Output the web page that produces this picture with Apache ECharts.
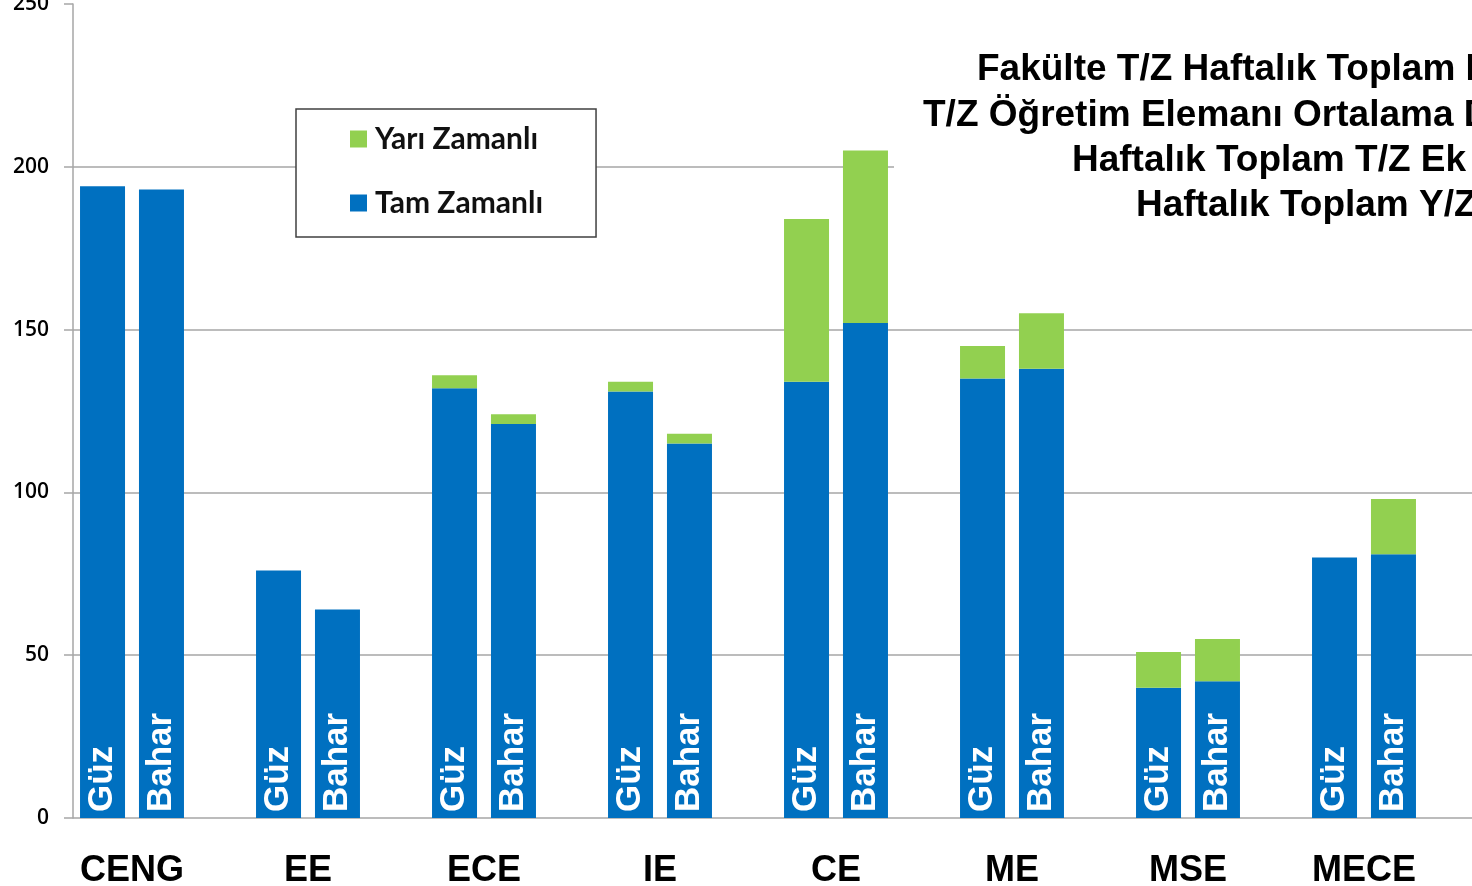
<!DOCTYPE html>
<html>
<head>
<meta charset="utf-8">
<title>T/Z - Y/Z Haftalık Ders Yükü</title>
<script src="https://cdn.jsdelivr.net/npm/echarts@6/dist/echarts.min.js"></script>
<style>
    html, body { margin: 0; padding: 0; background: #fff; }
    .bar { width: 1472px; height: 886px; }
</style>
</head>
<body>
<div class="bar"></div>
<script>
// bölümler
var categories = ['CENG', 'EE', 'ECE', 'IE', 'CE', 'ME', 'MSE', 'MECE'];
// Güz dönemi
var guzTam = [194, 76, 132, 131, 134, 135, 40, 80];
var guzYari = [0, 0, 4, 3, 50, 10, 11, 0];
// Bahar dönemi
var baharTam = [193, 64, 121, 115, 152, 138, 42, 81];
var baharYari = [0, 0, 3, 3, 53, 17, 13, 17];
// y ekseni
var yMin = 0, yMax = 250, yStep = 50;
// başlık satırları (sağda kesik)
var titleLines = [
    'Fakülte T/Z Haftalık Toplam D',
    'T/Z Öğretim Elemanı Ortalama D',
    'Haftalık Toplam T/Z Ek',
    'Haftalık Toplam Y/Z'
];
var titleX = [977, 923, 1072, 1136];

(function () {
    var myChart = echarts.init(document.querySelector(".bar"));

    var blue = '#0070c0';
    var green = '#92d050';
    var font = 'Liberation Sans, Arial, sans-serif';

    // çubuğun içindeki dönem yazısı
    function termLabel(text) {
        return {
            show: true,
            position: 'insideBottom',
            rotate: 90,
            align: 'left',
            verticalAlign: 'middle',
            distance: 6,
            formatter: text,
            color: '#fff',
            fontFamily: font,
            fontWeight: 'bold',
            fontSize: 35
        };
    }

    // başlık için beyaz kutu (200 çizgisini örtüyor)
    var graphics = [{
        type: 'rect',
        left: 894, top: 40,
        shape: { width: 600, height: 190 },
        style: { fill: '#fff' },
        z: 5
    }];
    titleLines.forEach(function (t, i) {
        graphics.push({
            type: 'text',
            x: titleX[i],
            y: 70 + i * 45.3,
            z: 6,
            style: {
                text: t,
                fill: '#000',
                font: 'bold 37px ' + font,
                verticalAlign: 'middle'
            }
        });
    });

    var option = {
        animation: false,
        backgroundColor: '#fff',
        legend: {
            data: ['Yarı Zamanlı', 'Tam Zamanlı'],
            orient: 'vertical',
            left: 296,
            top: 109,
            padding: [15, 53, 19, 54],
            itemGap: 34,
            itemWidth: 17,
            itemHeight: 17,
            icon: 'rect',
            itemStyle: { borderWidth: 0 },
            backgroundColor: '#fff',
            borderColor: '#404040',
            borderWidth: 1.5,
            textStyle: {
                color: '#111',
                fontFamily: 'Lato',
                fontWeight: 'bold',
                fontSize: 30,
                lineHeight: 30,
                padding: [0, 0, 0, 3]
            },
            selectedMode: false
        },
        grid: [
            // çubuklar
            { left: 44, width: 1408, top: 4, bottom: 68, outerBoundsMode: 'none' },
            // eksen ve kılavuz çizgileri
            { left: 73, right: 0, top: 4, bottom: 68, outerBoundsMode: 'none' }
        ],
        xAxis: [{
            type: 'category',
            gridIndex: 0,
            data: categories,
            axisLine: { show: false },
            axisTick: { show: false },
            axisLabel: {
                color: '#000',
                fontFamily: font,
                fontWeight: 'bold',
                fontSize: 36,
                margin: 35
            }
        }, {
            type: 'value',
            gridIndex: 1,
            show: false
        }],
        yAxis: [{
            type: 'value',
            gridIndex: 0,
            min: yMin,
            max: yMax,
            interval: yStep,
            show: false
        }, {
            type: 'value',
            gridIndex: 1,
            min: yMin,
            max: yMax,
            interval: yStep,
            axisLine: { show: true, lineStyle: { color: '#a6a6a6', width: 1.5 } },
            axisTick: { show: true, length: 9, lineStyle: { color: '#a6a6a6', width: 1.5 } },
            axisLabel: {
                color: '#000',
                fontFamily: 'Open Sans',
                fontWeight: 600,
                fontSize: 21,
                margin: 24
            },
            splitLine: {
                showMaxLine: false,
                lineStyle: { color: '#a6a6a6', width: 1.5 }
            }
        }],
        graphic: graphics,
        series: [{
            name: 'Tam Zamanlı',
            type: 'bar',
            stack: 'guz',
            barWidth: 45,
            barGap: '31%',
            itemStyle: { color: blue },
            label: termLabel('Güz'),
            data: guzTam
        }, {
            name: 'Yarı Zamanlı',
            type: 'bar',
            stack: 'guz',
            barWidth: 45,
            itemStyle: { color: green },
            data: guzYari
        }, {
            name: 'Tam Zamanlı',
            type: 'bar',
            stack: 'bahar',
            barWidth: 45,
            barGap: '31%',
            itemStyle: { color: blue },
            label: termLabel('Bahar'),
            data: baharTam
        }, {
            name: 'Yarı Zamanlı',
            type: 'bar',
            stack: 'bahar',
            barWidth: 45,
            itemStyle: { color: green },
            data: baharYari
        }]
    };
    myChart.setOption(option);
    window.addEventListener("resize", function () {
        myChart.resize();
    });
})();
</script>
</body>
</html>
